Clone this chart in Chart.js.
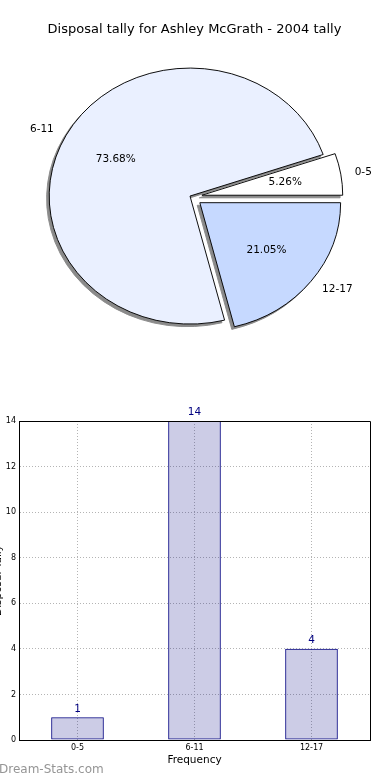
<!DOCTYPE html>
<html>
<head>
<meta charset="utf-8">
<script src="https://cdn.jsdelivr.net/npm/chart.js@4/dist/chart.umd.min.js"></script>
<style>
  html, body { margin: 0; padding: 0; background: #fff; overflow: hidden; }
  #wrap { position: relative; width: 390px; height: 780px; overflow: hidden; }
  #pie { position: absolute; left: 0; top: 0; }
  #bars { position: absolute; left: -10px; top: 390px; }
  #mark { position: absolute; left: -1px; top: 762px; font: 12px "DejaVu Sans"; color: #959595; }
</style>
</head>
<body>
<div id="wrap">
  <canvas id="pie" width="390" height="390"></canvas>
  <canvas id="bars" width="400" height="390"></canvas>
  <div id="mark">Dream-Stats.com</div>
</div>
<script>
const categories = ["0-5", "6-11", "12-17"];
const tally = [1, 14, 4];
const explode = [0.075, 0.012, 0.075];
const sliceColors = ["#ffffff", "#eaf0ff", "#c6d9ff"];
const yTicks = [0, 2, 4, 6, 8, 10, 12, 14];

const title = "Disposal tally for Ashley McGrath - 2004 tally";
const navy = "#000080";
const stretchX = 1.1; // pie is drawn a bit wider than tall
const pieShiftX = -3; // pie sits a little left of the title centre

Chart.defaults.font.family = "DejaVu Sans";
Chart.defaults.color = "#000";

// matplotlib goes counter-clockwise from 3 o'clock, chart.js clockwise -> reverse
const pieLabels = categories.slice().reverse();
const pieValues = tally.slice().reverse();
const pieExplode = explode.slice().reverse();
const pieColors = sliceColors.slice().reverse();
const total = tally.reduce((a, b) => a + b, 0);

const pieLook = {
  id: "pieLook",
  afterDatasetsUpdate(chart) {
    const area = chart.chartArea;
    chart.$cx = (area.left + area.right) / 2 + pieShiftX;
    chart.$cy = (area.top + area.bottom) / 2;
    chart.getDatasetMeta(0).data.forEach((arc, i) => {
      const mid = (arc.startAngle + arc.endAngle) / 2;
      const d = pieExplode[i] * arc.outerRadius;
      arc.x += Math.cos(mid) * d + pieShiftX;
      arc.y += Math.sin(mid) * d;
    });
  },
  beforeDatasetsDraw(chart) {
    const ctx = chart.ctx;
    ctx.save();
    ctx.translate(chart.$cx, chart.$cy);
    ctx.scale(stretchX, 1);
    ctx.translate(-chart.$cx, -chart.$cy);
    // shadows under every slice
    chart.getDatasetMeta(0).data.forEach((arc) => {
      const s = Object.create(arc);
      s.options = Object.assign({}, arc.options, {
        backgroundColor: "#8a8a8a",
        borderColor: "#8a8a8a",
      });
      ctx.save();
      ctx.translate(-2.6 / stretchX, 2.6);
      s.draw(ctx);
      ctx.restore();
    });
  },
  afterDatasetsDraw(chart) {
    const ctx = chart.ctx;
    ctx.restore();
    const cx = chart.$cx;
    ctx.save();
    ctx.fillStyle = "#000";
    ctx.font = "10.5px 'DejaVu Sans'";
    ctx.textBaseline = "middle";
    chart.getDatasetMeta(0).data.forEach((arc, i) => {
      const mid = (arc.startAngle + arc.endAngle) / 2;
      const c = Math.cos(mid), s = Math.sin(mid);
      const r = arc.outerRadius;
      ctx.textAlign = c >= 0 ? "left" : "right";
      ctx.fillText(pieLabels[i], cx + (arc.x - cx + c * 1.1 * r) * stretchX, arc.y + s * 1.1 * r);
      ctx.textAlign = "center";
      const pct = ((pieValues[i] / total) * 100).toFixed(2) + "%";
      ctx.fillText(pct, cx + (arc.x - cx + c * 0.6 * r) * stretchX, arc.y + s * 0.6 * r);
    });
    ctx.restore();
  },
};

new Chart(document.getElementById("pie"), {
  type: "pie",
  data: {
    labels: pieLabels,
    datasets: [{
      data: pieValues,
      backgroundColor: pieColors,
      borderColor: "#000",
      borderWidth: 0.9,
    }],
  },
  options: {
    responsive: false,
    animation: false,
    rotation: 90,
    radius: 128,
    layout: { padding: { left: 0, right: 1, top: 0, bottom: 34 } },
    plugins: {
      legend: { display: false },
      tooltip: { enabled: false },
      title: {
        display: true,
        text: title,
        color: "#000",
        font: { size: 13, weight: "normal", lineHeight: 1.2 },
        padding: { top: 22, bottom: 0 },
      },
    },
  },
  plugins: [pieLook],
});

const barExtras = {
  id: "barExtras",
  afterDatasetsDraw(chart) {
    const ctx = chart.ctx;
    const a = chart.chartArea;
    ctx.save();
    // top and right spines
    ctx.strokeStyle = "#000";
    ctx.lineWidth = 1;
    ctx.beginPath();
    ctx.moveTo(a.left, Math.round(a.top) + 0.5);
    ctx.lineTo(Math.round(a.right) + 0.5, Math.round(a.top) + 0.5);
    ctx.lineTo(Math.round(a.right) + 0.5, a.bottom);
    ctx.stroke();
    // value labels
    ctx.fillStyle = navy;
    ctx.font = "10.5px 'DejaVu Sans'";
    ctx.textAlign = "center";
    ctx.textBaseline = "bottom";
    chart.getDatasetMeta(0).data.forEach((bar, i) => {
      ctx.fillText(String(tally[i]), bar.x, bar.y - 3);
    });
    ctx.restore();
  },
};

const gridStyle = { color: "#b4b4b4", lineWidth: 1, drawTicks: false };

new Chart(document.getElementById("bars"), {
  type: "bar",
  data: {
    labels: categories,
    datasets: [{
      data: tally,
      backgroundColor: "rgba(0,0,128,0.2)",
      borderColor: navy,
      borderWidth: 1,
      borderSkipped: false,
      barPercentage: 0.45,
      categoryPercentage: 1,
    }],
  },
  options: {
    responsive: false,
    animation: false,
    layout: { padding: { left: 0, right: 20, top: 31, bottom: 0 } },
    plugins: { legend: { display: false }, tooltip: { enabled: false } },
    scales: {
      x: {
        offset: true,
        grid: Object.assign({ offset: false }, gridStyle),
        border: { display: true, color: "#000", width: 1, dash: [1, 2] },
        ticks: { font: { size: 8 }, color: "#000", padding: 3, maxRotation: 0 },
        title: {
          display: true,
          text: "Frequency",
          color: "#000",
          font: { size: 10.5 },
          padding: { top: 0, bottom: 13 },
        },
        afterFit(scale) { scale.height = 40; },
      },
      y: {
        min: yTicks[0],
        max: yTicks[yTicks.length - 1],
        afterBuildTicks(scale) { scale.ticks = yTicks.map((v) => ({ value: v })); },
        grid: gridStyle,
        border: { display: true, color: "#000", width: 1, dash: [1, 2] },
        ticks: { font: { size: 8 }, color: "#000", padding: 3 },
        title: {
          display: true,
          text: "Disposal Tally",
          color: "#000",
          font: { size: 10.5 },
          padding: { top: 2, bottom: 0 },
        },
        afterFit(scale) { scale.width = 29; },
      },
    },
  },
  plugins: [barExtras],
});
</script>
</body>
</html>
